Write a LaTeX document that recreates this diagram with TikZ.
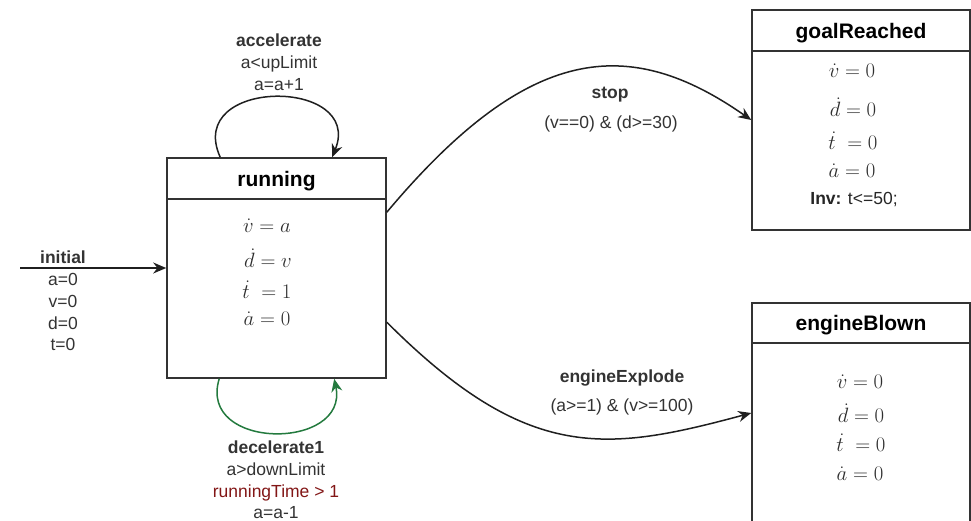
\documentclass[tikz,border=0pt]{standalone}
\usepackage[no-math]{fontspec}
\newfontfamily\lab{Liberation Sans}
\usetikzlibrary{arrows.meta,calc}
\definecolor{ink}{HTML}{333333}
\definecolor{eqink}{HTML}{2E2E2E}
\definecolor{loopgreen}{RGB}{35,122,62}
\definecolor{guardred}{RGB}{130,22,22}
\begin{document}
\begin{tikzpicture}[x=1pt,y=-1pt,
  state/.style={draw=ink, line width=1.6pt, minimum width=219pt, minimum height=220pt, inner sep=0pt, fill=white},
  title/.style={font=\lab\bfseries\fontsize{21}{25}\selectfont, text=black},
  lbl/.style={font=\lab\fontsize{17.5}{21.8}\selectfont, text=ink, align=center, inner sep=0pt},
  eq/.style={font=\fontsize{21}{25}\selectfont, text=eqink, inner sep=0pt},
  conn/.style={draw=black!88, line width=1.5pt, -{Stealth[length=13pt,width=11pt]}}
]
\useasboundingbox (0,0) rectangle (971,520);

% states
\node[state] (running) at (276.5,268) {};
\draw[ink, line width=1.6pt] ($(running.north west)+(0,42)$) coordinate (rh1) -- ($(running.north east)+(0,42)$) coordinate (rh2);
\node[title] (runningT) at (276.5,181) {running};

\node[state, minimum width=218pt] (goalReached) at (861,120) {};
\draw[ink, line width=1.6pt] ($(goalReached.north west)+(0,42)$) coordinate (gh1) -- ($(goalReached.north east)+(0,42)$) coordinate (gh2);
\node[title] (goalT) at (861,33) {goalReached};

\node[state, minimum width=218pt] (engineBlown) at (861,413) {};
\draw[ink, line width=1.6pt] ($(engineBlown.north west)+(0,41)$) coordinate (eh1) -- ($(engineBlown.north east)+(0,41)$) coordinate (eh2);
\node[title] (engT) at (861,325) {engineBlown};

% equations: running
\node[eq] (r1) at (267,226) {$\dot{v} = a$};
\node[eq] (r2) at (268,258) {$\dot{d} = v$};
\node[eq] (r3) at (267,290) {$\dot{t}\; = 1$};
\node[eq] (r4) at (267,319) {$\dot{a} = 0$};

% equations: goalReached
\node[eq] (g1) at (852,71) {$\dot{v} = 0$};
\node[eq] (g2) at (853,107) {$\dot{d} = 0$};
\node[eq] (g3) at (853,141) {$\dot{t}\; = 0$};
\node[eq] (g4) at (852,171) {$\dot{a} = 0$};
\node[lbl, text=black!85] (g5) at (854,200) {\bfseries Inv:\mdseries{} t<=50;};

% equations: engineBlown
\node[eq] (e1) at (860,382) {$\dot{v} = 0$};
\node[eq] (e2) at (861,413) {$\dot{d} = 0$};
\node[eq] (e3) at (861,443) {$\dot{t}\; = 0$};
\node[eq] (e4) at (860,474) {$\dot{a} = 0$};

% initial transition
\coordinate (init) at (20,268);
\draw[conn] (init) -- (running.west);
\node[lbl] (initL) at (63,301) {\textbf{initial}\\a=0\\v=0\\d=0\\t=0};

% accelerate loop
\draw[conn] ($(running.north west)+(54,0)$) coordinate (aS)
  .. controls +(-36,-80) and +(32,-80) .. ($(running.north west)+(166,0)$) coordinate (aE);
\node[lbl] (accL) at (279,62) {\textbf{accelerate}\\a<upLimit\\a=a+1};

% decelerate loop
\draw[conn, draw=loopgreen, -{Stealth[length=13pt,width=11pt,fill=loopgreen]}] ($(running.south west)+(53,0)$) coordinate (dS)
  .. controls +(-22,72) and +(15,72) .. ($(running.south west)+(168,0)$) coordinate (dE);
\node[lbl] (decL) at (276,480) {\textbf{decelerate1}\\a>downLimit\\\textcolor{guardred}{runningTime > 1}\\a=a-1};

% stop
\draw[conn] ($(running.north east)+(0,55)$) coordinate (sS)
  .. controls +(141,-168) and +(-123,-86) .. (goalReached.west);
\node[lbl] (stopL) at (610,95) {\textbf{stop}};
\node[lbl] (stopG) at (611,124) {(v==0) \& (d>=30)};

% engineExplode
\draw[conn] ($(running.north east)+(0,165)$) coordinate (xS)
  .. controls +(141,141) and +(-145,39) .. (engineBlown.west);
\node[lbl] (expL) at (622,378) {\textbf{engineExplode}};
\node[lbl] (expG) at (622,407) {(a>=1) \& (v>=100)};
\end{tikzpicture}
\end{document}
